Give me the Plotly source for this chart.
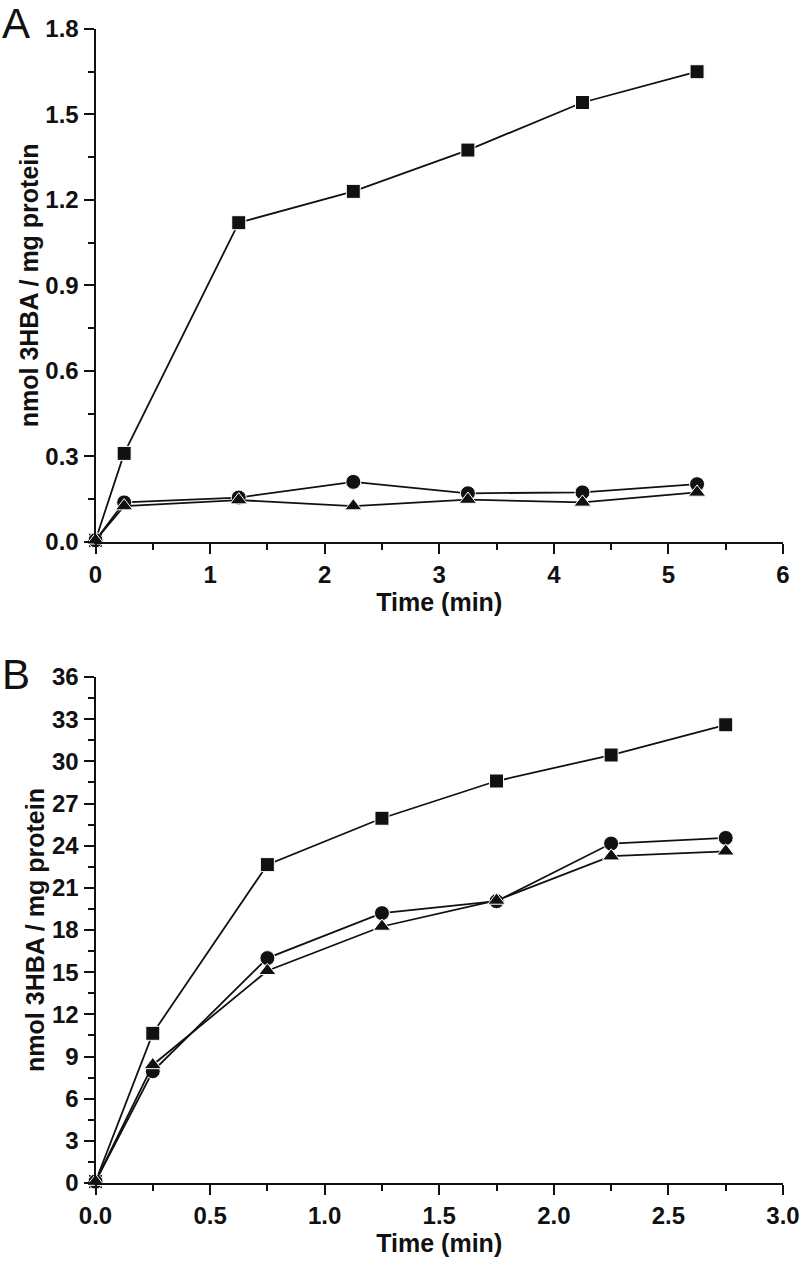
import plotly.graph_objects as go

# ---- data ----
time_a = [0, 0.25, 1.25, 2.25, 3.25, 4.25, 5.25]
a_square = [0.005, 0.31, 1.12, 1.23, 1.375, 1.542, 1.65]
a_circle = [0.005, 0.138, 0.155, 0.21, 0.17, 0.173, 0.202]
a_triangle = [0.005, 0.125, 0.146, 0.125, 0.148, 0.138, 0.173]

time_b = [0, 0.25, 0.75, 1.25, 1.75, 2.25, 2.75]
b_square = [0.1, 10.65, 22.65, 25.95, 28.6, 30.45, 32.6]
b_circle = [0.1, 7.95, 16.0, 19.2, 20.05, 24.15, 24.55]
b_triangle = [0.1, 8.4, 15.1, 18.25, 20.1, 23.25, 23.6]

y_title = "nmol 3HBA / mg protein"
x_title = "Time (min)"
panel_labels = ["A", "B"]

FONT = "Arial, Liberation Sans, Helvetica, sans-serif"
BLACK = "#111111"

W = 800
H = 1264

def px_x(p):
    return p / W

def px_y(p):
    return 1 - p / H

fig = go.Figure()

def add_series(x, y, symbol, size, xa, ya, name):
    fig.add_trace(go.Scatter(
        x=x, y=y, mode="lines+markers", name=name,
        xaxis=xa, yaxis=ya, cliponaxis=False,
        line=dict(color=BLACK, width=1.8),
        marker=dict(symbol=symbol, size=size, color=BLACK,
                    line=dict(color="white", width=1)),
        showlegend=False,
    ))

add_series(time_a, a_square, "square", 14, "x", "y", "square")
add_series(time_a, a_circle, "circle", 15, "x", "y", "circle")
add_series(time_a, a_triangle, "triangle-up", 15, "x", "y", "triangle")
add_series(time_b, b_square, "square", 14, "x2", "y2", "square")
add_series(time_b, b_circle, "circle", 15, "x2", "y2", "circle")
add_series(time_b, b_triangle, "triangle-up", 15, "x2", "y2", "triangle")

tickfont = dict(family=FONT, size=24, color=BLACK, weight="bold")
titlefont = dict(family=FONT, size=25, color=BLACK, weight="bold")

def axis_common():
    return dict(
        showline=True, linecolor=BLACK, linewidth=2,
        ticks="outside", ticklen=10, tickwidth=2, tickcolor=BLACK,
        showgrid=False, zeroline=False, tickfont=tickfont,
        automargin=False, ticklabeloverflow="allow",
    )

xdom = [px_x(95.5), px_x(783)]

fig.update_layout(
    width=W, height=H,
    margin=dict(l=0, r=0, t=0, b=0),
    paper_bgcolor="white", plot_bgcolor="white",
    xaxis=dict(**axis_common(), domain=xdom, anchor="y", range=[0, 6],
               dtick=1, tick0=0,
               minor=dict(dtick=0.5, ticklen=6, tickwidth=2, tickcolor=BLACK, ticks="outside"),
               title=dict(text=x_title, font=titlefont, standoff=6)),
    yaxis=dict(**axis_common(), domain=[px_y(541.7), px_y(29)], anchor="x", range=[0, 1.8],
               dtick=0.3, tick0=0, tickformat=".1f",
               minor=dict(dtick=0.15, ticklen=6, tickwidth=2, tickcolor=BLACK, ticks="outside"),
               title=dict(text=y_title, font=titlefont, standoff=0)),
    xaxis2=dict(**axis_common(), domain=xdom, anchor="y2", range=[0, 3],
                dtick=0.5, tick0=0, tickformat=".1f",
                minor=dict(dtick=0.25, ticklen=6, tickwidth=2, tickcolor=BLACK, ticks="outside"),
                title=dict(text=x_title, font=titlefont, standoff=6)),
    yaxis2=dict(**axis_common(), domain=[px_y(1183), px_y(677)], anchor="x2", range=[0, 36],
                dtick=3, tick0=0,
                minor=dict(dtick=1.5, ticklen=6, tickwidth=2, tickcolor=BLACK, ticks="outside"),
                title=dict(text=y_title, font=titlefont, standoff=0)),
)

for lab, ypx in zip(panel_labels, [24, 674]):
    fig.add_annotation(text=lab, xref="paper", yref="paper", x=px_x(0), y=px_y(ypx),
                       xanchor="left", yanchor="middle", showarrow=False,
                       font=dict(family=FONT, size=42, color=BLACK))

# remove the default 8px page margin so the figure sits at the window origin
fig.write_html("out.html", config={"displayModeBar": False},
               post_script="document.body.style.margin='0';")
